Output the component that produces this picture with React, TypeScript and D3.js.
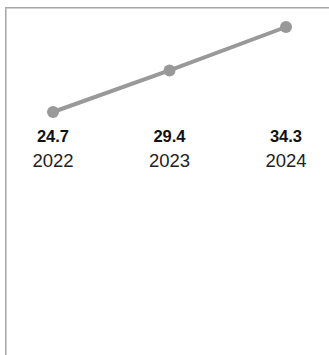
import React from "react";
import * as d3 from "d3";

const years = ["2022", "2023", "2024"];
const values = [24.7, 29.4, 34.3];

const W = 329;
const H = 355;

export default function App() {
  const x = d3.scalePoint<string>().domain(years).range([53, 286]);
  const y = d3.scaleLinear().domain([24.7, 34.3]).range([112, 27]);
  const data = years.map((yr, i) => ({ yr, v: values[i] }));
  const line = d3
    .line<{ yr: string; v: number }>()
    .x((d) => x(d.yr) as number)
    .y((d) => y(d.v));

  return (
    <svg
      width={W}
      height={H}
      style={{ position: "absolute", left: 0, top: 0, background: "#fff" }}
      fontFamily="'Liberation Sans', Arial, Helvetica, sans-serif"
    >
      <line x1={5} y1={7.5} x2={W} y2={7.5} stroke="#a8a8a8" strokeWidth={1} />
      <line x1={6} y1={8.5} x2={W} y2={8.5} stroke="#d0d0d0" strokeWidth={1} />
      <line x1={5.5} y1={7} x2={5.5} y2={H} stroke="#a8a8a8" strokeWidth={1} />
      <line x1={6.5} y1={8} x2={6.5} y2={H} stroke="#d0d0d0" strokeWidth={1} />
      <path d={line(data) || ""} fill="none" stroke="#999999" strokeWidth={4} />
      {data.map((d) => (
        <circle key={d.yr} cx={x(d.yr)} cy={y(d.v)} r={6} fill="#999999" />
      ))}
      {data.map((d) => (
        <g key={"l" + d.yr}>
          <text
            x={x(d.yr)}
            y={142}
            textAnchor="middle"
            fontSize={16.5}
            fontWeight="bold"
            fill="#111"
          >
            {d.v.toFixed(1)}
          </text>
          <text x={x(d.yr)} y={166.5} textAnchor="middle" fontSize={18.5} fill="#222">
            {d.yr}
          </text>
        </g>
      ))}
    </svg>
  );
}
